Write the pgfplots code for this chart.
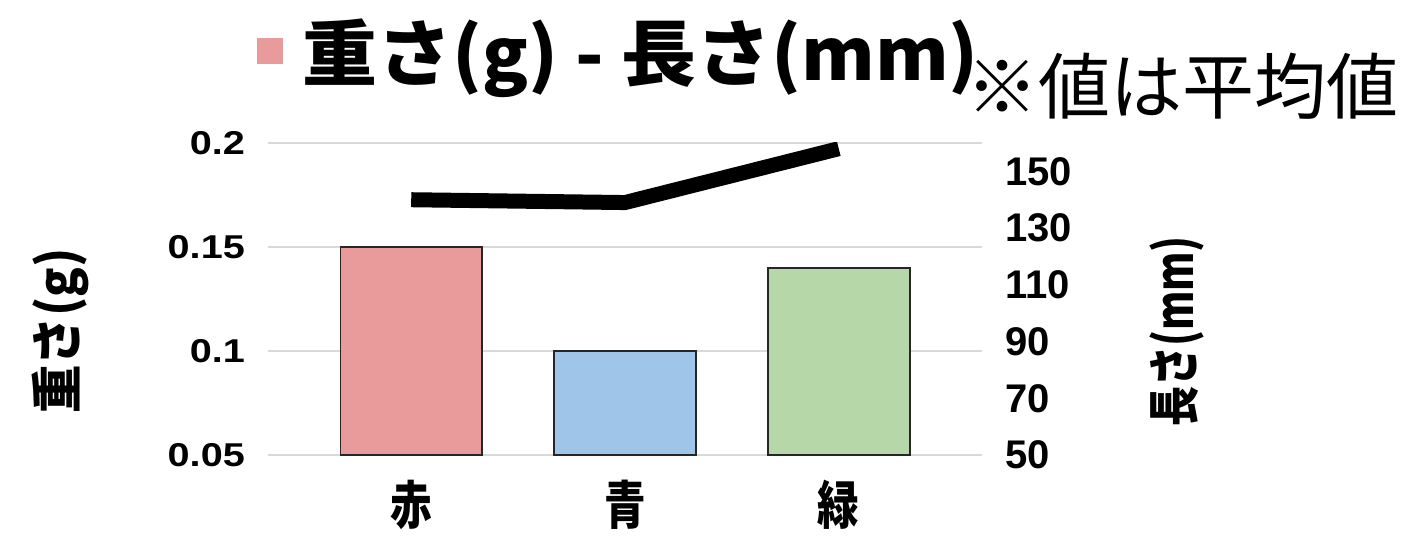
\documentclass[border=0pt]{standalone}
\usepackage{pgfplots}
\pgfplotsset{compat=1.18}
\usepackage{fontspec}
\setmainfont{Liberation Sans}
\newfontfamily\widesans[FakeStretch=1.2]{Liberation Sans}
\newfontfamily\jp{Noto Sans CJK JP}
\newfontfamily\jptitle[FakeStretch=1.04]{Noto Sans CJK JP}
\newfontfamily\jpcat[FakeStretch=0.8]{Noto Sans CJK JP}
\newfontfamily\jpleft[FakeStretch=0.93]{Noto Sans CJK JP}
\newfontfamily\jpright[FakeStretch=0.77]{Noto Sans CJK JP}

\definecolor{barred}{HTML}{E99A9A}
\definecolor{barblue}{HTML}{9FC5E8}
\definecolor{bargreen}{HTML}{B6D7A8}
\definecolor{gridc}{HTML}{D9D9D9}

\begin{document}
\begin{tikzpicture}[x=1pt,y=1pt]
\useasboundingbox (0,0) rectangle (1405,549);

% bars, left axis
\begin{axis}[
    at={(268pt,94pt)}, anchor=south west,
    scale only axis, width=714pt, height=312pt,
    xmin=-0.67, xmax=2.67,
    ymin=0.05, ymax=0.2,
    xtick={0,1,2}, xticklabels={赤,青,緑},
    ytick={0.05,0.1,0.15,0.2}, yticklabels={0.05,0.1,0.15,0.2},
    /pgf/number format/assume math mode=true,
    axis line style={draw=none}, major tick length=0pt,
    ymajorgrids, grid style={gridc, line width=2pt},
    ybar, bar width=0.664, bar shift=0pt,
    yticklabel style={font=\widesans\bfseries\fontsize{33}{33}\selectfont, inner sep=0pt, anchor=east, xshift=-23pt},
    xticklabel style={font=\jpcat\bfseries\fontsize{52}{52}\selectfont, inner sep=0pt, anchor=north, yshift=-25pt},
    legend style={at={(-0.0154,1.2965)}, anchor=west, draw=none, fill=none,
        inner sep=0pt, column sep=20pt, nodes={inner sep=0pt},
        font=\jptitle\bfseries\fontsize{72}{72}\selectfont},
]
\addplot[fill=barred, draw=black!85, line width=1.5pt, forget plot] coordinates {(0,0.15)};
\addplot[fill=barblue, draw=black!85, line width=1.5pt, forget plot] coordinates {(1,0.10)};
\addplot[fill=bargreen, draw=black!85, line width=1.5pt, forget plot] coordinates {(2,0.14)};
\addlegendimage{legend image code/.code={\fill[barred] (0pt,-12.5pt) rectangle (25pt,12.5pt);}}
\addlegendentry{重さ(g) - 長さ(mm)}
\end{axis}

% line, right axis
\begin{axis}[
    at={(268pt,94pt)}, anchor=south west,
    scale only axis, width=714pt, height=312pt,
    xmin=-0.67, xmax=2.67,
    ymin=50, ymax=160,
    axis y line*=right, axis x line=none,
    ytick={50,70,90,110,130,150},
    /pgf/number format/assume math mode=true,
    axis line style={draw=none}, major tick length=0pt,
    yticklabel style={font=\bfseries\fontsize{40}{40}\selectfont, inner sep=0pt, anchor=west, xshift=23pt},
]
\addplot[black, line width=15pt] coordinates {(0,140) (1,139) (2,158)};
\end{axis}

\node[rotate=90, inner sep=0pt, font=\jpleft\bfseries\fontsize{52}{52}\selectfont] at (60,218) {重さ(g)};
\node[rotate=90, inner sep=0pt, font=\jpright\bfseries\fontsize{52}{52}\selectfont] at (1177,217.5) {長さ(mm)};
\node[anchor=east, inner sep=0pt, font=\jp\fontsize{72}{72}\selectfont] at (1399,463) {※値は平均値};
\end{tikzpicture}
\end{document}
